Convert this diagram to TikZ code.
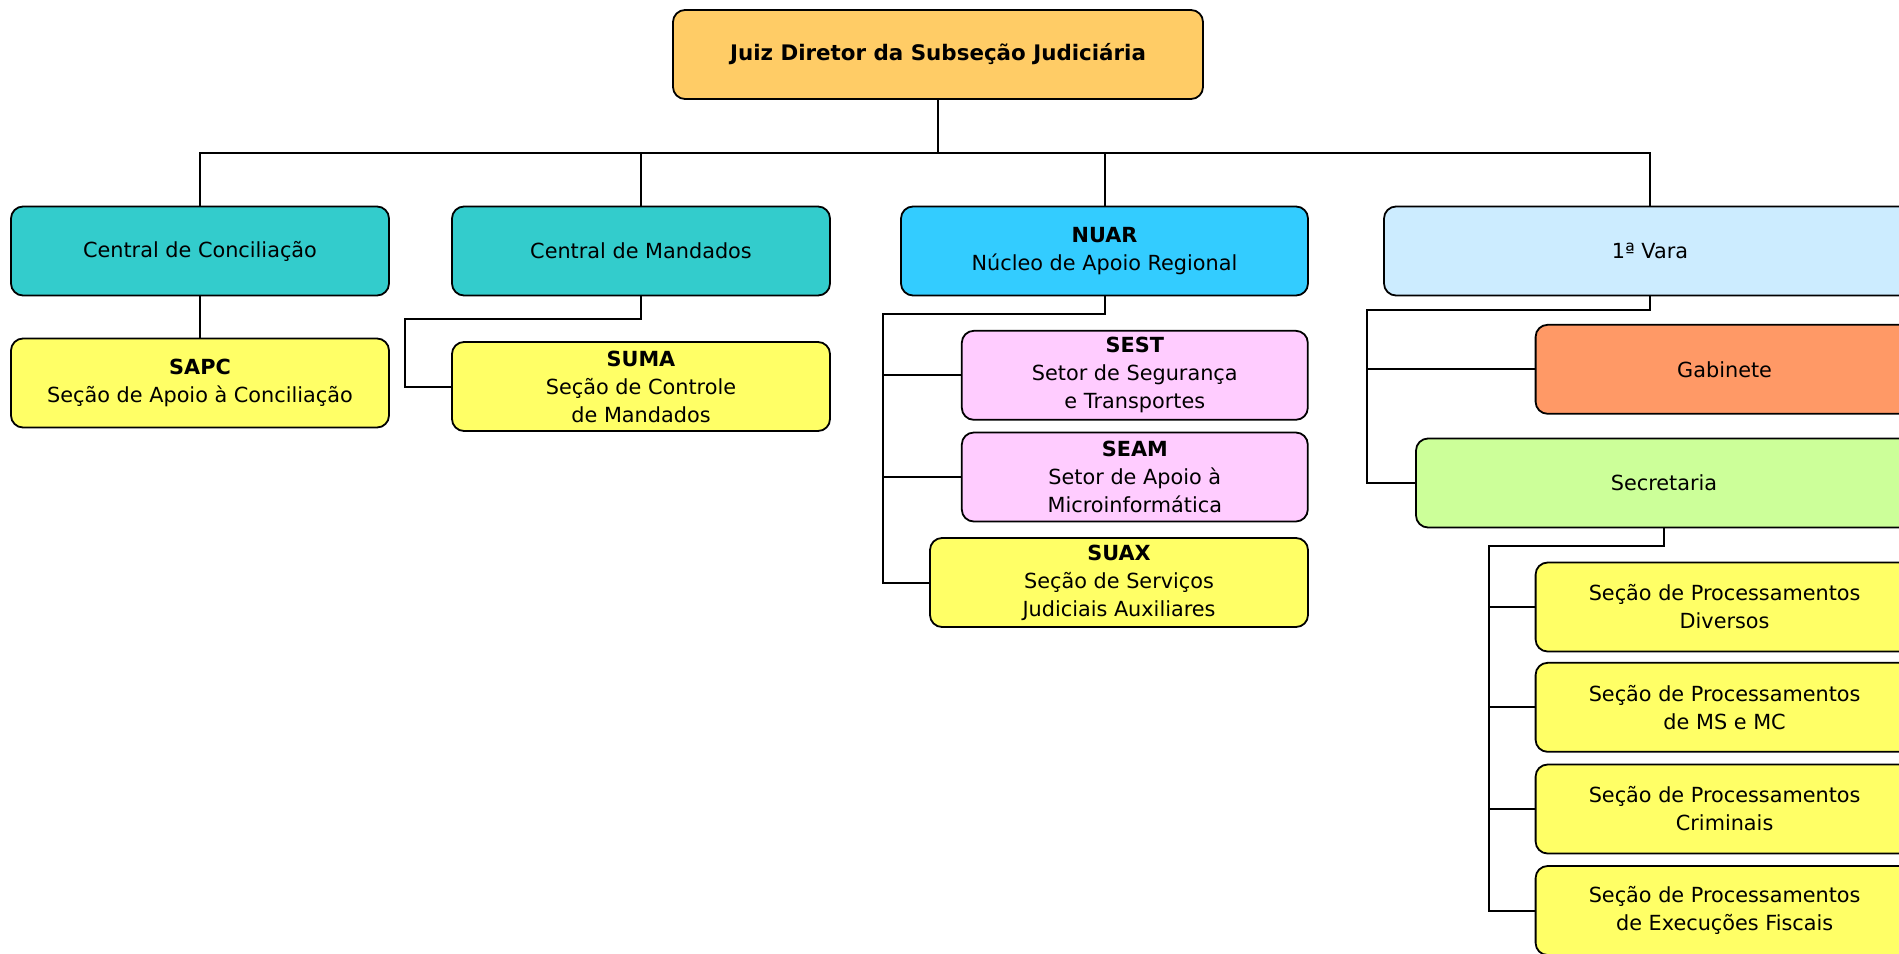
\documentclass[tikz,border=0pt]{standalone}
\usepackage{fontspec}
\setmainfont{DejaVu Sans}
\usepackage{xcolor}
\usepackage{tikz}
\usetikzlibrary{
	calc,
	positioning
}
\definecolor{cJuiz}{HTML}{FFCC66}
\definecolor{cTeal}{HTML}{33CCCC}
\definecolor{cNuar}{HTML}{33CCFF}
\definecolor{cVara}{HTML}{CCECFF}
\definecolor{cGab}{HTML}{FF9966}
\definecolor{cSec}{HTML}{CCFF99}
\definecolor{cSecao}{HTML}{FFFF66}
\definecolor{cSetor}{HTML}{FFCCFF}

\begin{document}
\begin{tikzpicture}[x=0.5pt, y=-0.5pt,
		unit/.style={draw, rounded corners=6pt, line width=0.9pt, align=center,
			minimum height=44.5pt, inner sep=2pt, font=\fontsize{10.4}{14}\selectfont},
		link/.style={line width=1pt}]
		\useasboundingbox (0,0) rectangle (1899,953);
		\clip (0,0) rectangle (1899,953);
		% direcao
		\node[unit, fill=cJuiz, minimum width=265pt, font=\fontsize{10.7}{14}\selectfont\bfseries] (juiz) at (938,54.5) {Juiz Diretor da Subseção Judiciária};
		% primeiro nivel
		\node[unit, fill=cTeal, minimum width=189pt] (conc) at (200,251) {Central de Conciliação};
		\node[unit, fill=cTeal, minimum width=189pt] (mand) at (641,251) {Central de Mandados};
		\node[unit, fill=cNuar, minimum width=203.5pt] (nuar) at (1104.5,251) {\textbf{NUAR}\\Núcleo de Apoio Regional};
		\node[unit, fill=cVara, minimum width=266pt] (vara) at (1650,251) {1ª Vara};
		% segundo nivel
		\node[unit, fill=cSecao, minimum width=189pt] (sapc) at (200,383) {\textbf{SAPC}\\Seção de Apoio à Conciliação};
		\node[unit, fill=cSecao, minimum width=189pt] (suma) at (641,386.5) {\textbf{SUMA}\\Seção de Controle\\de Mandados};
		\node[unit, fill=cSetor, minimum width=173pt] (sest) at (1134.8,375.3) {\textbf{SEST}\\Setor de Segurança\\e Transportes};
		\node[unit, fill=cSetor, minimum width=173pt] (seam) at (1134.8,477) {\textbf{SEAM}\\Setor de Apoio à\\Microinformática};
		\node[unit, fill=cSecao, minimum width=189pt] (suax) at (1119,582.5) {\textbf{SUAX}\\Seção de Serviços\\Judiciais Auxiliares};
		\node[unit, fill=cGab, minimum width=189pt] (gab) at (1724.6,369.3) {Gabinete};
		\node[unit, fill=cSec, minimum width=248pt] (sec) at (1664,483) {Secretaria};
		% secoes da secretaria
		\node[unit, fill=cSecao, minimum width=189pt] (pd) at (1724.6,607) {Seção de Processamentos\\Diversos};
		\node[unit, fill=cSecao, minimum width=189pt] (pms) at (1724.6,707.3) {Seção de Processamentos\\de MS e MC};
		\node[unit, fill=cSecao, minimum width=189pt] (pcr) at (1724.6,809) {Seção de Processamentos\\Criminais};
		\node[unit, fill=cSecao, minimum width=189pt] (pef) at (1724.6,910.5) {Seção de Processamentos\\de Execuções Fiscais};
		% pontos de dobra
		\coordinate (bus) at (938,153);
		\coordinate (mandk) at (404.5,318.5);
		\coordinate (nuark) at (883,313.7);
		\coordinate (vark) at (1367,310);
		\coordinate (seck) at (1488.5,546);
		% ligacoes
		\draw[link, line width=1.2pt] (juiz.south) -- (bus);
		\draw[link, line width=1.2pt] (conc.north) |- (bus) -| (vara.north);
		\draw[link] (mand.north) -- (mand.north |- bus);
		\draw[link] (nuar.north) -- (nuar.north |- bus);
		\draw[link] (conc.south) -- (sapc.north);
		\draw[link] (mand.south) |- (mandk) |- (suma.west);
		\draw[link] (nuar.south) |- (nuark) |- (suax.west);
		\draw[link] (nuark |- sest.west) -- (sest.west);
		\draw[link] (nuark |- seam.west) -- (seam.west);
		\draw[link] (vara.south) |- (vark) |- (sec.west);
		\draw[link] (vark |- gab.west) -- (gab.west);
		\draw[link] (sec.south) |- (seck) |- (pef.west);
		\draw[link] (seck |- pd.west) -- (pd.west);
		\draw[link] (seck |- pms.west) -- (pms.west);
		\draw[link] (seck |- pcr.west) -- (pcr.west);
\end{tikzpicture}
\end{document}
